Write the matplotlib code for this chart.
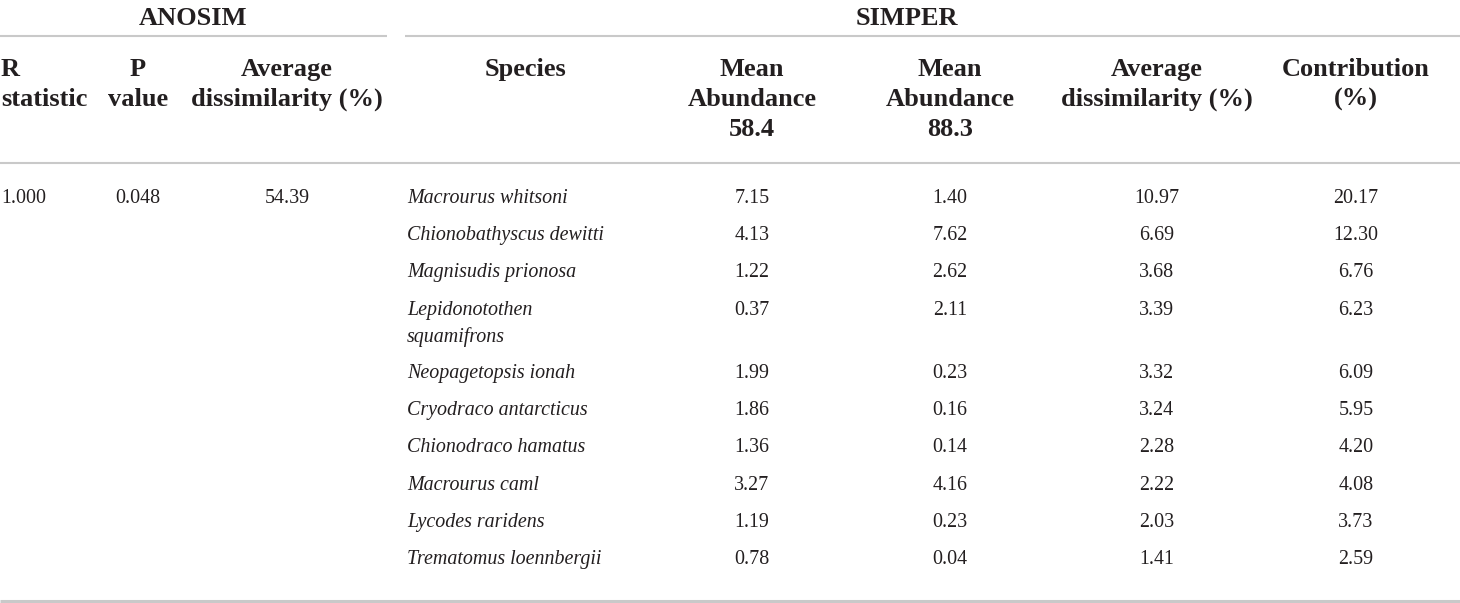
import matplotlib
matplotlib.use('Agg')
import matplotlib.pyplot as plt

plt.rcParams['font.family'] = ['Liberation Serif', 'DejaVu Serif']

# ANOSIM
r_statistic = '1.000'
p_value = '0.048'
anosim_dissim = '54.39'

# SIMPER
species = [['Macrourus whitsoni'], ['Chionobathyscus dewitti'], ['Magnisudis prionosa'],
           ['Lepidonotothen', 'squamifrons'], ['Neopagetopsis ionah'], ['Cryodraco antarcticus'],
           ['Chionodraco hamatus'], ['Macrourus caml'], ['Lycodes raridens'],
           ['Trematomus loennbergii']]
mean_abund_1 = ['7.15', '4.13', '1.22', '0.37', '1.99', '1.86', '1.36', '3.27', '1.19', '0.78']
mean_abund_2 = ['1.40', '7.62', '2.62', '2.11', '0.23', '0.16', '0.14', '4.16', '0.23', '0.04']
avg_dissim = ['10.97', '6.69', '3.68', '3.39', '3.32', '3.24', '2.28', '2.22', '2.03', '1.41']
contribution = ['20.17', '12.30', '6.76', '6.23', '6.09', '5.95', '4.20', '4.08', '3.73', '2.59']

groups = ['ANOSIM', 'SIMPER']
headers = [['R', 'statistic'], ['P', 'value'], ['Average', 'dissimilarity (%)'],
           ['Species'], ['Mean', 'Abundance', '58.4'], ['Mean', 'Abundance', '88.3'],
           ['Average', 'dissimilarity (%)'], ['Contribution', '(%)']]

W, H = 1460, 603
fig = plt.figure(figsize=(W / 100, H / 100), dpi=100)
ax = fig.add_axes([0, 0, 1, 1])
ax.set_xlim(0, W)
ax.set_ylim(H, 0)
ax.axis('off')

line_col = '#c9c9c9'
txt_col = '#231f20'
fs_head = 19
fs_body = 14.4

# column x positions and alignment
col_x = [1, 138, 287, 525, 752, 950, 1157, 1356]
col_ha = ['left', 'center', 'center', 'center', 'center', 'center', 'center', 'center']
species_x = 407

# rules
ax.plot([0, 387], [36, 36], color=line_col, lw=1.5, solid_capstyle='butt')
ax.plot([405, W], [36, 36], color=line_col, lw=1.5, solid_capstyle='butt')
ax.plot([0, W], [163, 163], color=line_col, lw=1.5, solid_capstyle='butt')
ax.plot([0, W], [601, 601], color=line_col, lw=2.2, solid_capstyle='butt')

# group titles
for x, g in zip([193, 907], groups):
    ax.text(x, 25, g, ha='center', va='baseline', fontsize=fs_head,
            fontweight='bold', color=txt_col)

# column headers, one line at a time
head_base = 76
head_step = 30
for x, ha, lines in zip(col_x, col_ha, headers):
    for k, s in enumerate(lines):
        ax.text(x, head_base + k * head_step, s, ha=ha, va='baseline',
                fontsize=fs_head, fontweight='bold', color=txt_col)

# body rows
row_base = [203, 240, 277, 315, 378, 415, 452, 490, 527, 564]
sub_step = 27

for x, ha, s in zip(col_x[:3], col_ha[:3], [r_statistic, p_value, anosim_dissim]):
    ax.text(x, row_base[0], s, ha=ha, va='baseline', fontsize=fs_body, color=txt_col)

for i, y in enumerate(row_base):
    for k, s in enumerate(species[i]):
        ax.text(species_x, y + k * sub_step, s, ha='left', va='baseline',
                fontsize=fs_body, style='italic', color=txt_col)
    vals = [mean_abund_1[i], mean_abund_2[i], avg_dissim[i], contribution[i]]
    for x, s in zip(col_x[4:], vals):
        ax.text(x, y, s, ha='center', va='baseline', fontsize=fs_body, color=txt_col)

fig.savefig('out.png', dpi=100)
